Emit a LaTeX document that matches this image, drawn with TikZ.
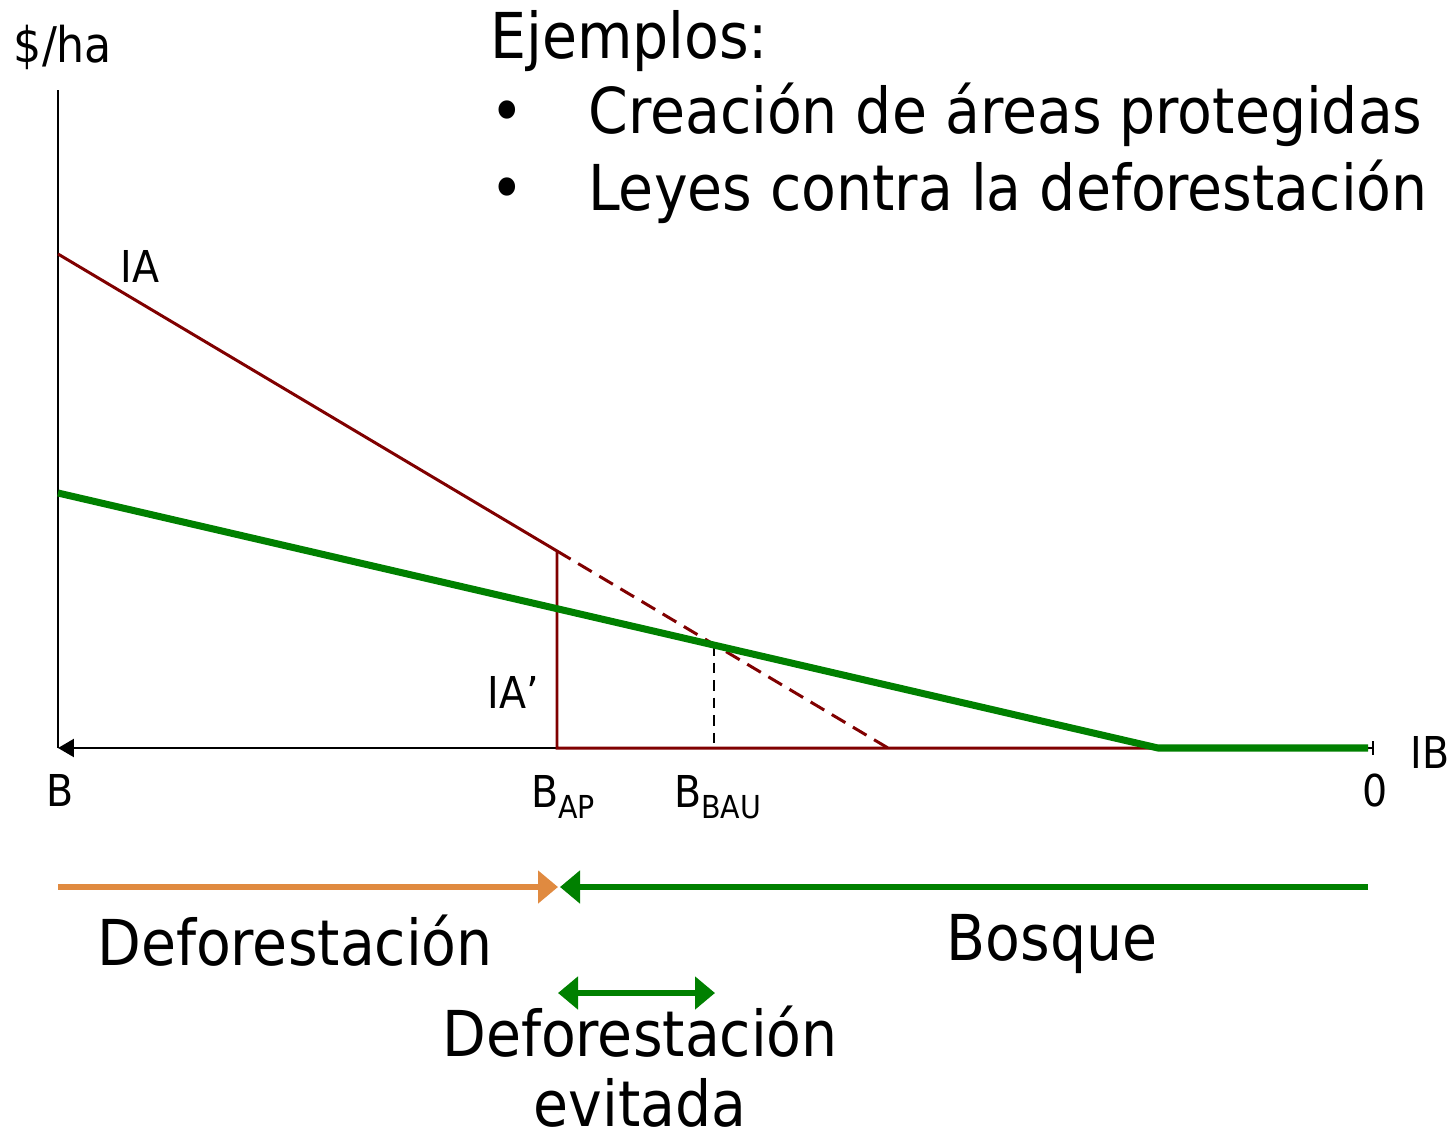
\documentclass[tikz,border=0pt]{standalone}
\usepackage{fontspec}
\setmainfont{DejaVu Sans Condensed}
\usetikzlibrary{arrows.meta}
\definecolor{iared}{RGB}{128,0,0}
\definecolor{ibgreen}{RGB}{0,128,0}
\definecolor{defor}{RGB}{224,138,64}

\begin{document}
\begin{tikzpicture}[x=0.02cm, y=-0.02cm,
    axis/.style = {line width=1.3pt, {Triangle[length=0.32cm, width=0.36cm]}-},
    ia/.style = {iared, line width=1.7pt},
    ib/.style = {ibgreen, line width=4pt},
    band/.style = {line width=3.4pt, -{Triangle[length=0.4cm, width=0.64cm]}},
    big/.style = {font=\fontsize{36}{40}\selectfont},
    lab/.style = {font=\fontsize{25}{28}\selectfont}]
    \useasboundingbox (0,0) rectangle (1455,1140);

    % coordinates
    \coordinate (o) at (58,748);
    \coordinate (top) at (58,90);
    \coordinate (end) at (1373,748);
    \coordinate (ia0) at (58,254);
    \coordinate (iacut) at (557,551);
    \coordinate (ap) at (557,748);
    \coordinate (iaend) at (888,748);
    \coordinate (ib0) at (58,493);
    \coordinate (ibkink) at (1158,748);
    \coordinate (ibend) at (1368,748);
    \coordinate (bau) at (714,645);
    \coordinate (baux) at (714,748);

    % axes
    \draw[line width=1.3pt] (o) -- (top);
    \draw[axis] (o) -- (end);
    \draw[line width=1.1pt] (end) ++(0,-7) coordinate (t1) -- ++(0,14);

    % curves
    \draw[ia] (ia0) -- (iacut) -- (ap) -- (ibend);
    \draw[ia, dashed, dash pattern=on 9pt off 5pt] (iacut) -- (iaend);
    \draw[line width=1.1pt, dashed, dash pattern=on 6pt off 4pt] (bau) -- (baux);
    \draw[ib] (ib0) -- (ibkink) -- (ibend);

    % labels
    \node[font=\fontsize{28}{30}\selectfont, anchor=base] (yl) at (63,62) {\$/ha};
    \node[lab, anchor=base] (ial) at (140,282) {IA};
    \node[lab, anchor=base] (ial2) at (513,708) {IA’};
    \node[lab, anchor=base] (bl) at (60,806) {B};
    \node[lab, anchor=base west, inner sep=0pt] (apl) at (531,807) {B{\fontsize{18}{20}\selectfont\raisebox{-0.35em}{AP}}};
    \node[lab, anchor=base west, inner sep=0pt] (baul) at (674,807) {B{\fontsize{18}{20}\selectfont\raisebox{-0.35em}{BAU}}};
    \node[lab, anchor=base] (zl) at (1375,806) {0};
    \node[lab, anchor=base west, inner sep=0pt] (ibl) at (1410,768) {IB};

    % examples
    \node[big, anchor=base west, inner sep=0pt] (ej) at (490,58) {Ejemplos:};
    \node[big, anchor=base west, inner sep=0pt] (b1) at (490,133) {•};
    \node[big, anchor=base west, inner sep=0pt] (e1) at (588,133) {Creación de áreas protegidas};
    \node[big, anchor=base west, inner sep=0pt] (b2) at (490,210) {•};
    \node[big, anchor=base west, inner sep=0pt] (e2) at (588,210) {Leyes contra la deforestación};

    % bands
    \coordinate (d0) at (58,887);
    \coordinate (d1) at (558,887);
    \coordinate (f0) at (1368,887);
    \coordinate (f1) at (560,887);
    \draw[band, defor] (d0) -- (d1);
    \draw[band, ibgreen] (f0) -- (f1);
    \coordinate (a0) at (558,993);
    \coordinate (a1) at (715,993);
    \draw[band, ibgreen, {Triangle[length=0.4cm, width=0.64cm]}-{Triangle[length=0.4cm, width=0.64cm]}] (a0) -- (a1);
    \node[big, anchor=base] (dl) at (295,965) {Deforestación};
    \node[big, anchor=base] (bq) at (1052,960) {Bosque};
    \node[big, anchor=base] (ev1) at (640,1056) {Deforestación};
    \node[big, anchor=base, inner sep=0pt] (ev2) at (640,1126) {evitada};
\end{tikzpicture}
\end{document}
